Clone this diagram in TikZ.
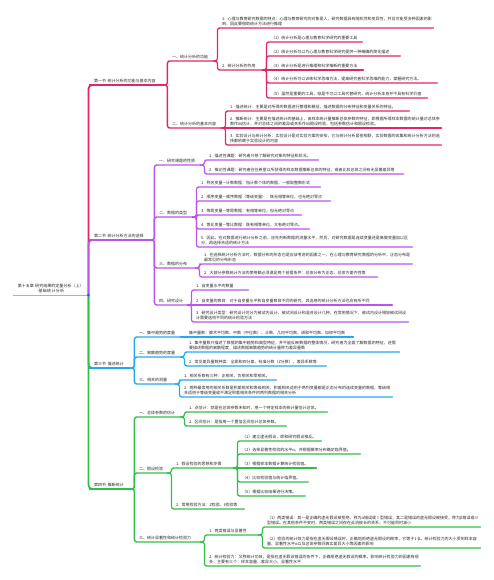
\documentclass[tikz,border=0pt]{standalone}
\usepackage{fontspec}
\newfontfamily\cjk{Noto Sans CJK SC}
\XeTeXlinebreaklocale "zh"
\XeTeXlinebreakskip=0pt plus 0.1pt
\definecolor{mred}{RGB}{226,38,98}
\definecolor{mpurple}{RGB}{186,85,236}
\definecolor{mblue}{RGB}{35,168,242}
\definecolor{mgreen}{RGB}{50,190,70}
\definecolor{mtext}{RGB}{40,40,40}

\begin{document}
\begin{tikzpicture}[x=1pt, y=-1pt, font=\cjk\fontsize{4}{5}\selectfont, text=mtext]
\tikzstyle{topic}=[anchor=south west, align=left, inner xsep=1pt, inner ysep=2pt]
\tikzstyle{lv1}=[line width=1.7pt, rounded corners=4pt, line cap=round]
\tikzstyle{lv2}=[line width=1.4pt, rounded corners=2.5pt, line cap=round]
\tikzstyle{lv3}=[line width=1.2pt, rounded corners=2.5pt, line cap=round]
\useasboundingbox (0,0) rectangle (493,580);
% root and sections
\node[topic, text width=73pt, align=center] (root) at (13,295) {第十五章 研究结果的定量分析（上）\\-基础统计分析};
\node[topic, text width=68pt] (s1) at (93,85) {第一节 统计分析的功能与基本内容};
\node[topic, text width=55pt] (s2) at (93,240) {第二节 统计分析方法的选择};
\node[topic, text width=35pt] (s3) at (93,368) {第三节 描述统计};
\node[topic, text width=35pt] (s4) at (93,489) {第四节 推断统计};
% first section
\node[topic, text width=40pt] (a1) at (171,61) {一、统计分析的功能};
\node[topic, text width=48pt] (a2) at (171,128) {二、统计分析的基本内容};
\node[topic, text width=210pt] (a11) at (221,28) {1. 心理与教育研究数据的特点：心理与教育研究的对象是人，研究数据具有随机性和变异性，并且可能受多种因素的影响，因此要借助统计方法进行推理};
\node[topic, text width=39pt] (a12) at (221,70) {2. 统计分析的作用};
\node[topic, text width=90pt] (a121) at (270,42) {（1）统计分析是心理与教育科学研究的重要工具};
\node[topic, text width=128pt] (a122) at (270,56) {（2）统计分析可以为心理与教育科学研究提供一种精确的简化描述};
\node[topic, text width=91pt] (a123) at (270,70) {（3）统计分析是进行推理和科学推断的重要方法};
\node[topic, text width=165pt] (a124) at (270,83) {（4）统计分析可以训练科学思维方法，提高研究者科学思维的能力，掌握研究方法。};
\node[topic, text width=155pt] (a125) at (270,98) {（5）虽然是重要的工具，但是不可以工具代替研究，统计分析本身并不具有科学价值};
\node[topic, text width=178pt] (a21) at (229,111) {1. 描述统计：主要是对所得的数据进行整理和概括，描述数据的分布特征和变量关系的特征。};
\node[topic, text width=210pt] (a22) at (229,128) {2. 推断统计：主要是在描述统计的基础上，由样本统计量推断总体参数的特征，即根据所得样本数据的统计量对总体参数作出估计，并对总体之间的差异或关系作出假设检验，包括参数估计和假设检验。};
\node[topic, text width=210pt] (a23) at (229,145) {3. 实验设计与统计分析：实验设计是对实验方案的安排，它与统计分析紧密相联，实验数据的收集和统计分析方法的选择都依赖于实验设计的内容};
% second section
\node[topic, text width=40pt] (b1) at (158,165) {一、研究课题的性质};
\node[topic, text width=32pt] (b2) at (158,217) {二、数据的类型};
\node[topic, text width=35pt] (b3) at (158,268) {三、数据的分布};
\node[topic, text width=27pt] (b4) at (158,305) {四、研究设计};
\node[topic, text width=108pt] (b11) at (208,160) {1. 描述性课题：研究者只想了解研究对象的特征和状况。};
\node[topic, text width=193pt] (b12) at (208,174) {2. 推论性课题：研究者往往希望以所获得的样本数据推断总体的特征，或者比较总体之间有无显著差异等};
\node[topic, text width=118pt] (b21) at (200,187) {1. 称名变量—计数数据：指计数个体的数据，一般取整数形式};
\node[topic, text width=128pt] (b22) at (200,201) {2. 顺序变量—顺序数据（等级变量）：既无相等单位，也无绝对零点};
\node[topic, text width=99pt] (b23) at (200,215) {3. 等距变量—等距数据：有相等单位，但无绝对零点};
\node[topic, text width=107pt] (b24) at (200,229) {4. 等比变量—等比数据：既有相等单位，又有绝对零点。};
\node[topic, text width=210pt] (b25) at (200,247) {5. 因此，在对数据进行统计分析之前，应先判断数据的测量水平，然后，对研究数据是连续变量还是离散变量加以区分，再选择合适的统计方法};
\node[topic, text width=207pt] (b31) at (203,264) {1. 在选择统计分析方法时，数据分布的形态也是应该考虑的因素之一，在心理与教育研究数据的分析中，正态分布是最常见的分布形态};
\node[topic, text width=172pt] (b32) at (203,277) {2. 大部分参数统计方法的使用都必须满足两个前提条件：总体分布为正态、总体方差齐性等};
\node[topic, text width=51pt] (b41) at (195,290) {1. 自变量水平的数量};
\node[topic, text width=195pt] (b42) at (195,305) {2. 自变量的数目：对于自变量水平和自变量数目不同的研究，其选用的统计分析方法也应有所不同};
\node[topic, text width=211pt] (b43) at (195,322) {3. 研究设计类型：研究设计可分为被试内设计、被试间设计和混合设计几种，在常用情况下，被试内设计相较被试间设计需要选用不同的统计检验方法};
% third section
\node[topic, text width=40pt] (c1) at (138,337) {一、集中趋势的度量};
\node[topic, text width=40pt] (c2) at (138,357) {二、离散趋势的度量};
\node[topic, text width=35pt] (c3) at (138,384) {三、相关的测量};
\node[topic, text width=163pt] (c11) at (188,337) {集中量数：算术平均数、中数（中位数）、众数、几何平均数、调和平均数、加权平均数};
\node[topic, text width=209pt] (c21) at (188,352) {1. 集中量数只描述了数据的集中趋势和典型特征，并不能反映数据的整体情况，研究者为全面了解数据的特征，还需要描述数据的离散程度，描述数据离散趋势的统计量称为差异量数};
\node[topic, text width=136pt] (c22) at (188,366) {2. 常见差异量数种类：全距和四分差、标准分数（Z分数）、差异系数等};
\node[topic, text width=91pt] (c31) at (183,380) {1. 相关系数有三种：正相关、负相关和零相关。};
\node[topic, text width=207pt] (c32) at (183,397) {2. 两种最常用的相关系数是积差相关和等级相关，积差相关适用于两列变量都是正态分布的连续变量的数据，等级相关适用于等级变量或不满足积差相关条件的两列数据的相关分析};
% fourth section
\node[topic, text width=40pt] (d1) at (138,417) {一、总体参数的估计};
\node[topic, text width=27pt] (d2) at (138,473) {二、假设检验};
\node[topic, text width=60pt] (d3) at (138,542) {三、统计显著性和统计检验力};
\node[topic, text width=137pt] (d11) at (188,412) {1. 点估计：就是在总体参数未知时，用一个特定样本的统计量估计总体。};
\node[topic, text width=96pt] (d12) at (188,426) {2. 区间估计：是指用一个置信区间估计总体参数。};
\node[topic, text width=56pt] (d21) at (175,468) {1. 假设检验的思想和步骤};
\node[topic, text width=67pt] (d22) at (175,509) {2. 常用检验方法：Z检验、t检验等};
\node[topic, text width=78pt] (d211) at (241,441) {（1）建立虚无假设，即和研究假设相反。};
\node[topic, text width=117pt] (d212) at (241,454) {（2）选择显著性检验的水平α，并根据概率分布确定临界值。};
\node[topic, text width=73pt] (d213) at (241,468) {（3）根据样本数据计算统计检验值。};
\node[topic, text width=65pt] (d214) at (241,482) {（4）比较检验值与统计临界值。};
\node[topic, text width=62pt] (d215) at (241,496) {（5）根据比较结果进行决策。};
\node[topic, text width=48pt] (d31) at (208,535) {1. 两类错误与显著性};
\node[topic, text width=210pt] (d32) at (208,566) {2. 统计检验力：又称统计功效，是指在虚无假设错误的条件下，正确拒绝虚无假设的概率。影响统计检验力的因素有很多，主要有三个：样本容量、差异大小、显著性水平};
\node[topic, text width=212pt] (d311) at (266,527) {（1）两类错误：其一是正确的虚无假设被拒绝，称为α错误或Ⅰ型错误；其二是错误的虚无假设被接受，称为β错误或Ⅱ型错误。在其他条件不变时，两类错误之间存在此消彼长的关系，不可能同时减小};
\node[topic, text width=212pt] (d312) at (266,548) {（2）检验的统计效力是指在虚无假设错误时，正确地拒绝虚无假设的概率，它等于1-β。统计检验力的大小受到样本容量、显著性水平α以及总体参数间真实差异大小等因素的影响};
% branches
\draw[gray!60, line width=0.8pt] (root.south west) -- (root.south east);
\draw[mred,lv1] (root.south east) |- (s1.south west) -- (s1.south east);
\draw[mpurple,lv1] (root.south east) |- (s2.south west) -- (s2.south east);
\draw[mblue,lv1] (root.south east) |- (s3.south west) -- (s3.south east);
\draw[mgreen,lv1] (root.south east) |- (s4.south west) -- (s4.south east);
\foreach \p/\c in {s1/a1,s1/a2}{\draw[mred,lv2] (\p.south east) -- ++(4,0) |- (\c.south west) -- (\c.south east);}
\foreach \p/\c in {a1/a11,a1/a12,a12/a121,a12/a122,a12/a124,a12/a125,a2/a21,a2/a23}{\draw[mred,lv3] (\p.south east) -- ++(4,0) |- (\c.south west) -- (\c.south east);}
\foreach \p/\c in {a12/a123,a2/a22}{\draw[mred,lv3] (\p.south east) -- (\c.south west) -- (\c.south east);}
\foreach \p/\c in {s2/b1,s2/b2,s2/b3,s2/b4}{\draw[mpurple,lv2] (\p.south east) -- ++(4,0) |- (\c.south west) -- (\c.south east);}
\foreach \p/\c in {b1/b11,b1/b12,b2/b21,b2/b22,b2/b23,b2/b24,b2/b25,b3/b31,b3/b32,b4/b41,b4/b43}{\draw[mpurple,lv3] (\p.south east) -- ++(4,0) |- (\c.south west) -- (\c.south east);}
\draw[mpurple,lv3] (b4.south east) -- (b42.south west) -- (b42.south east);
\foreach \p/\c in {s3/c1,s3/c2,s3/c3}{\draw[mblue,lv2] (\p.south east) -- ++(4,0) |- (\c.south west) -- (\c.south east);}
\foreach \p/\c in {c2/c21,c2/c22,c3/c31,c3/c32}{\draw[mblue,lv3] (\p.south east) -- ++(4,0) |- (\c.south west) -- (\c.south east);}
\draw[mblue,lv3] (c1.south east) -- (c11.south west) -- (c11.south east);
\foreach \p/\c in {s4/d1,s4/d2,s4/d3}{\draw[mgreen,lv2] (\p.south east) -- ++(4,0) |- (\c.south west) -- (\c.south east);}
\foreach \p/\c in {d1/d11,d1/d12,d2/d21,d2/d22,d21/d211,d21/d212,d21/d214,d21/d215,d3/d31,d3/d32,d31/d311,d31/d312}{\draw[mgreen,lv3] (\p.south east) -- ++(4,0) |- (\c.south west) -- (\c.south east);}
\draw[mgreen,lv3] (d21.south east) -- (d213.south west) -- (d213.south east);
\node[circle, fill=mblue!60!blue, inner sep=0pt, minimum size=3.2pt] (hub) at (root.south east) {};
\end{tikzpicture}
\end{document}
